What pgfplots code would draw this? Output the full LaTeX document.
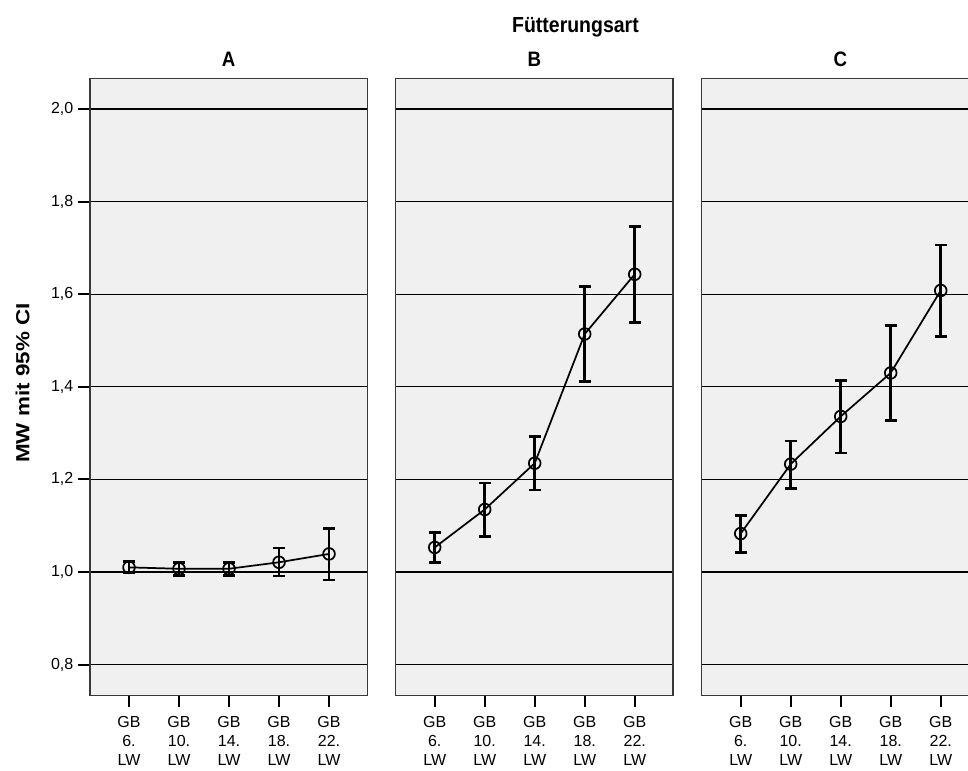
\documentclass[border=0pt]{standalone}
\usepackage{pgfplots}
\pgfplotsset{compat=1.18}
\usepackage{pgfplotstable}
\usepackage{fontspec}
\setmainfont{Liberation Sans}
\definecolor{bgcol}{HTML}{F0F0F0}
\definecolor{framecol}{HTML}{383838}
\newcommand{\vs}[1]{\scalebox{1}[1.12]{#1}}

\pgfplotstableread{
x y lo hi
0 1.010 0.998 1.022
1 1.007 0.992 1.021
2 1.007 0.992 1.021
3 1.021 0.991 1.052
4 1.039 0.983 1.094
}\dataA
\pgfplotstableread{
x y lo hi
0 1.053 1.021 1.086
1 1.135 1.077 1.192
2 1.235 1.177 1.293
3 1.514 1.411 1.616
4 1.643 1.539 1.746
}\dataB
\pgfplotstableread{
x y lo hi
0 1.083 1.042 1.122
1 1.233 1.180 1.283
2 1.336 1.257 1.414
3 1.430 1.327 1.532
4 1.608 1.508 1.706
}\dataC

\pgfplotsset{
  panel/.style={
    scale only axis,
    width=208pt, height=462.75pt,
    anchor=south west,
    xmin=-0.78, xmax=4.766,
    ymin=0.7337, ymax=2.0663,
    axis background/.style={fill=bgcol},
    axis line style={draw=framecol, line width=1.1pt},
    ytick={0.8,1.0,1.2,1.4,1.6,1.8,2.0},
    ymajorgrids,
    major grid style={black, line width=1pt},
    xtick={0,1,2,3,4},
    xticklabels={{GB\\6.\\LW},{GB\\10.\\LW},{GB\\14.\\LW},{GB\\18.\\LW},{GB\\22.\\LW}},
    xticklabel style={align=center, font=\fontsize{12}{14.25}\selectfont, yshift=-3.5pt},
    yticklabel style={font=\fontsize{12}{14.25}\selectfont},
    tick align=outside,
    xtick pos=bottom, ytick pos=left,
    major tick length=9pt,
    tick style={black, line width=1.5pt},
    title style={at={(0.5,1)}, anchor=base, yshift=2.5pt, font=\fontsize{14}{16}\selectfont\bfseries},
    clip=false,
  },
  series/.style={
    black, line width=1.3pt, mark=o, mark size=4.4pt,
    mark options={line width=1.3pt, solid},
    error bars/.cd, y dir=both, y explicit,
    error bar style={line width=2pt, black},
    error mark options={line width=2pt, mark size=4.6pt, rotate=90},
  },
}

\begin{document}
\begin{tikzpicture}
\path[use as bounding box] (0pt,0pt) rectangle (726pt,578.25pt);
\clip (0pt,0pt) rectangle (726pt,578.25pt);

\node[anchor=base, font=\fontsize{14.6}{17}\selectfont\bfseries] at (431.6pt,553.5pt) {\vs{Fütterungsart}};
\node[rotate=90, anchor=center, font=\fontsize{14.25}{17}\selectfont\bfseries] at (17pt,291pt) {\scalebox{1.18}[1]{MW mit 95\% CI}};

\begin{axis}[panel, at={(67.5pt,56.775pt)}, title={\vs{A}},
  yticklabels={{0,8},{1,0},{1,2},{1,4},{1,6},{1,8},{2,0}}]
\addplot+[series] table[x=x, y=y, y error plus expr=\thisrow{hi}-\thisrow{y}, y error minus expr=\thisrow{y}-\thisrow{lo}] {\dataA};
\end{axis}

\begin{axis}[panel, at={(296.775pt,56.775pt)}, title={\vs{B}},
  yticklabels={}, ytick style={draw=none}]
\addplot+[series] table[x=x, y=y, y error plus expr=\thisrow{hi}-\thisrow{y}, y error minus expr=\thisrow{y}-\thisrow{lo}] {\dataB};
\end{axis}

\begin{axis}[panel, at={(526.275pt,56.775pt)}, title={\vs{C}},
  yticklabels={}, ytick style={draw=none}]
\addplot+[series] table[x=x, y=y, y error plus expr=\thisrow{hi}-\thisrow{y}, y error minus expr=\thisrow{y}-\thisrow{lo}] {\dataC};
\end{axis}
\end{tikzpicture}
\end{document}
